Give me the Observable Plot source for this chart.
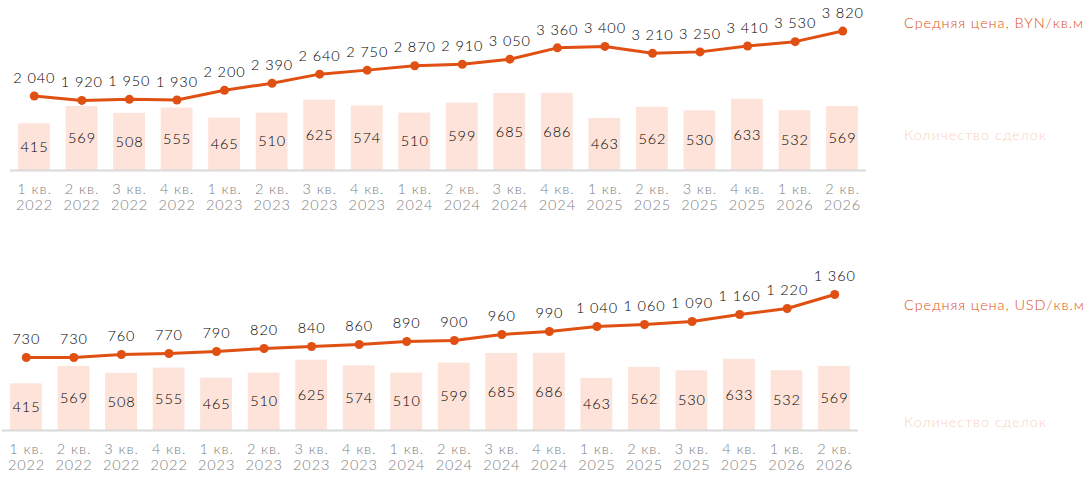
<!DOCTYPE html>
<html>
<head>
<meta charset="utf-8">
<script src="https://cdn.jsdelivr.net/npm/d3@7"></script>
<script src="https://cdn.jsdelivr.net/npm/@observablehq/plot@0.6"></script>
<style>
  html, body { margin: 0; padding: 0; background: #fff; }
  body { width: 1090px; height: 487px; position: relative; overflow: hidden; font-family: "Lato", "Noto Sans", sans-serif; }
  .layer { position: absolute; left: 0; }
  .layer svg { overflow: visible; }
  .legend { position: absolute; left: 904px; font-size: 14.5px; letter-spacing: 0.9px; white-space: nowrap; line-height: 1; transform: translateY(-50%); font-weight: 300; }
</style>
</head>
<body>
<script>
const quarters = ["1 кв.","2 кв.","3 кв.","4 кв.","1 кв.","2 кв.","3 кв.","4 кв.","1 кв.","2 кв.","3 кв.","4 кв.","1 кв.","2 кв.","3 кв.","4 кв.","1 кв.","2 кв."];
const years = ["2022","2022","2022","2022","2023","2023","2023","2023","2024","2024","2024","2024","2025","2025","2025","2025","2026","2026"];
const deals = [415,569,508,555,465,510,625,574,510,599,685,686,463,562,530,633,532,569];
const priceBYN = [2040,1920,1950,1930,2200,2390,2640,2750,2870,2910,3050,3360,3400,3210,3250,3410,3530,3820];
const priceUSD = [730,730,760,770,790,820,840,860,890,900,960,990,1040,1060,1090,1160,1220,1360];

const LINE = "#E05012";
const BAR = "#FDE3D9";
const LEGEND_BAR = "#F9D2C2";
const FONT = "Lato, 'Noto Sans', sans-serif";
const W = 300;

const labels = quarters.map((q, i) => `${q}\n${years[i]}`);
const fmt = v => d3.format(",")(v).replace(/,/g, "\u00a0");

function panel(top, height, marginLeft, frameRight, baseline, priceValues, priceDomainMax, dealsDomainMax, legendTitle, legendTopY, legendBarY) {
  const width = 1090;
  const marginRight = width - frameRight;
  const marginBottom = height - baseline;
  const xOpts = {domain: labels, paddingInner: 0.33, paddingOuter: 0.17, round: false};
  const rows = labels.map((l, i) => ({label: l, deals: deals[i], price: priceValues[i]}));
  const style = {fontFamily: FONT, background: "transparent", letterSpacing: "0.9px"};

  const bars = Plot.plot({
    width, height, marginLeft, marginRight, marginTop: 0, marginBottom, style,
    x: {...xOpts, label: null},
    y: {domain: [0, dealsDomainMax], axis: null},
    marks: [
      Plot.barY(rows, {x: "label", y: "deals", fill: BAR}),
      Plot.text(rows, {x: "label", y: d => d.deals / 2, text: d => String(d.deals), fill: "#000", fontSize: 14.5, fontWeight: W}),
      Plot.ruleY([0], {stroke: "#d9d9d9", strokeWidth: 2}),
      Plot.axisX({tickSize: 0, tickPadding: 12, fontSize: 14.5, fill: "#808080", lineHeight: 1.12, label: null, fontWeight: W})
    ]
  });
  const line = Plot.plot({
    width, height, marginLeft, marginRight, marginTop: 0, marginBottom, style,
    x: {...xOpts, axis: null},
    y: {domain: [0, priceDomainMax], axis: null},
    marks: [
      Plot.line(rows, {x: "label", y: "price", stroke: LINE, strokeWidth: 3}),
      Plot.dot(rows, {x: "label", y: "price", fill: LINE, r: 4.5}),
      Plot.text(rows, {x: "label", y: "price", text: d => fmt(d.price), dy: -18, fill: "#000", fontSize: 14.5, fontWeight: W})
    ]
  });
  for (const chart of [bars, line]) {
    const div = document.createElement("div");
    div.className = "layer";
    div.style.top = top + "px";
    div.appendChild(chart);
    document.body.appendChild(div);
  }
  const l1 = document.createElement("div");
  l1.className = "legend"; l1.style.top = legendTopY + "px"; l1.style.color = LINE; l1.textContent = legendTitle;
  const l2 = document.createElement("div");
  l2.className = "legend"; l2.style.top = legendBarY + "px"; l2.style.color = LEGEND_BAR; l2.textContent = "Количество сделок";
  document.body.appendChild(l1); document.body.appendChild(l2);
}

// top panel: baseline at y=170 in page
panel(0, 225, 10, 866, 170, priceBYN, 170 / 0.0365, 170 / 0.1125, "Средняя цена, BYN/кв.м", 23, 135);
// bottom panel: baseline at y=430 in page
panel(240, 247, 2, 858, 190, priceUSD, 190 / 0.1, 190 / 0.1125, "Средняя цена, USD/кв.м", 305, 422);
</script>
</body>
</html>
